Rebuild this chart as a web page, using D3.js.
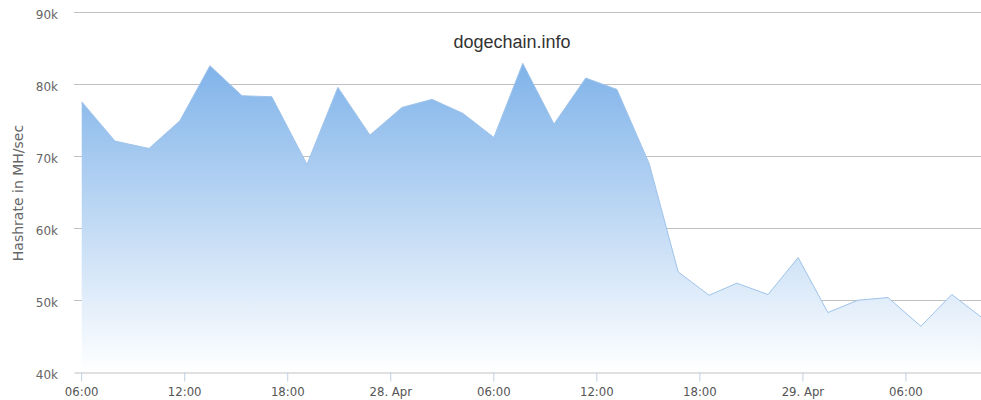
<!DOCTYPE html>
<html>
<head>
<meta charset="utf-8">
<script src="https://cdn.jsdelivr.net/npm/d3@7"></script>
<style>
  html, body { margin: 0; padding: 0; background: #fff; }
  svg { display: block; }
</style>
</head>
<body>
<div id="chart"></div>
<script>
// ========= Data ========= //
const times = [
  '2014-04-27 06:02', '2014-04-27 07:58', '2014-04-27 09:57', '2014-04-27 11:45',
  '2014-04-27 13:30', '2014-04-27 15:22', '2014-04-27 17:06', '2014-04-27 19:09',
  '2014-04-27 20:57', '2014-04-27 22:49', '2014-04-28 00:41', '2014-04-28 02:26',
  '2014-04-28 04:14', '2014-04-28 06:02', '2014-04-28 07:43', '2014-04-28 09:32',
  '2014-04-28 11:23', '2014-04-28 13:12', '2014-04-28 15:05', '2014-04-28 16:46',
  '2014-04-28 18:34', '2014-04-28 20:11', '2014-04-28 22:00', '2014-04-28 23:45',
  '2014-04-29 01:29', '2014-04-29 03:14', '2014-04-29 04:59', '2014-04-29 06:54',
  '2014-04-29 08:42', '2014-04-29 10:24'
];
const hashrates = [
  77530, 72070, 71050, 74890, 82540, 78370, 78230, 68830,
  79530, 72900, 76750, 77870, 75920, 72580, 82870, 74430,
  80830, 79250, 68900, 53900, 50660, 52330, 50760, 55900,
  48260, 49970, 50340, 46350, 50760, 47650
];
const yTicks = [40000, 50000, 60000, 70000, 80000, 90000];
const chartTitle = 'dogechain.info';
const yAxisTitle = 'Hashrate in MH/sec';
const xStart = '2014-04-27 05:35';
const xEnd = '2014-04-29 10:24';

// ========= Layout ========= //
const width = 981;
const height = 400;
const margin = { top: 12, right: 0, bottom: 28, left: 74 };

const parseTime = d3.timeParse('%Y-%m-%d %H:%M');
const points = times.map((t, i) => ({ date: parseTime(t), value: hashrates[i] }));

const x = d3.scaleTime()
  .domain([parseTime(xStart), parseTime(xEnd)])
  .range([margin.left, width - margin.right]);

const y = d3.scaleLinear()
  .domain([40000, 90000])
  .range([height - margin.bottom, margin.top]);

const svg = d3.select('#chart').append('svg')
  .attr('width', width)
  .attr('height', height);

const defs = svg.append('defs');
const grad = defs.append('linearGradient')
  .attr('id', 'area-fill')
  .attr('gradientUnits', 'userSpaceOnUse')
  .attr('x1', 0).attr('x2', 0)
  .attr('y1', y(90000)).attr('y2', y(40000));
grad.append('stop').attr('offset', '0%').attr('stop-color', '#6aa6e6');
grad.append('stop').attr('offset', '100%').attr('stop-color', '#ffffff');

// ========= Grid ========= //
svg.append('g')
  .attr('class', 'grid')
  .selectAll('line')
  .data(yTicks.filter((d) => d !== 40000))
  .join('line')
  .attr('x1', margin.left)
  .attr('x2', width)
  .attr('y1', (d) => Math.round(y(d)) + 0.5)
  .attr('y2', (d) => Math.round(y(d)) + 0.5)
  .attr('stroke', '#c0c0c0')
  .attr('stroke-width', 1);

// ========= Area ========= //
const area = d3.area()
  .x((d) => x(d.date))
  .y0(y(40000))
  .y1((d) => y(d.value));

const line = d3.line()
  .x((d) => x(d.date))
  .y((d) => y(d.value));

svg.append('path')
  .datum(points)
  .attr('fill', 'url(#area-fill)')
  .attr('d', area);

svg.append('path')
  .datum(points)
  .attr('fill', 'none')
  .attr('stroke', '#9fc3ea')
  .attr('stroke-width', 1)
  .attr('d', line);

// ========= X axis ========= //
const fmtTick = (d) => (d.getHours() === 0 ? d3.timeFormat('%-d. %b')(d) : d3.timeFormat('%H:%M')(d));

const xAxis = svg.append('g')
  .attr('transform', `translate(0, ${Math.round(y(40000)) + 0.5})`)
  .call(d3.axisBottom(x)
    .ticks(d3.timeHour.every(6))
    .tickSizeInner(9)
    .tickSizeOuter(0)
    .tickPadding(5)
    .tickFormat(fmtTick));

xAxis.select('.domain').attr('stroke', '#c0c0c0');
xAxis.selectAll('.tick line').attr('stroke', '#c0d0e0');
xAxis.selectAll('.tick text')
  .attr('fill', '#555')
  .attr('font-family', '"Liberation Sans Narrow", "DejaVu Sans Condensed", sans-serif')
  .attr('font-size', '13px');

// ========= Y labels ========= //
svg.append('g')
  .attr('class', 'y-labels')
  .selectAll('text')
  .data(yTicks)
  .join('text')
  .attr('x', 58)
  .attr('y', (d) => y(d) + 7)
  .attr('text-anchor', 'end')
  .attr('fill', '#666')
  .attr('font-family', '"DejaVu Sans", sans-serif')
  .attr('font-size', '12px')
  .text((d) => `${d / 1000}k`);

svg.append('text')
  .attr('transform', 'translate(23, 193) rotate(-90)')
  .attr('text-anchor', 'middle')
  .attr('fill', '#666')
  .attr('font-family', '"DejaVu Sans", sans-serif')
  .attr('font-size', '14px')
  .text(yAxisTitle);

// ========= Title ========= //
svg.append('text')
  .attr('x', 512)
  .attr('y', 48)
  .attr('text-anchor', 'middle')
  .attr('fill', '#333')
  .attr('font-family', '"Liberation Sans", Arial, sans-serif')
  .attr('font-size', '18px')
  .text(chartTitle);
</script>
</body>
</html>
